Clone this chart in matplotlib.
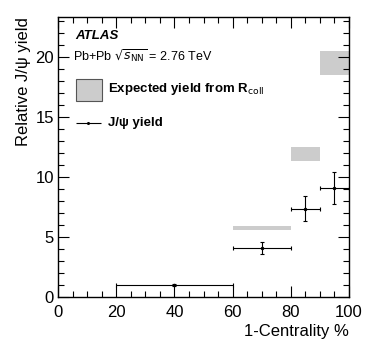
import matplotlib
matplotlib.use("Agg")
import matplotlib.pyplot as plt
import numpy as np
from matplotlib.patches import Rectangle
from matplotlib.ticker import MultipleLocator

# J/psi yield points
x_lo = np.array([20, 60, 80, 90])
x_hi = np.array([60, 80, 90, 100])
yld = np.array([1.0, 4.1, 7.35, 9.05])
yld_err = np.array([0.1, 0.5, 1.07, 1.33])

# expected yield from R_coll (bands)
exp_lo = np.array([60, 80, 90])
exp_hi = np.array([80, 90, 100])
exp_val = np.array([5.74, 11.9, 19.5])
exp_err = np.array([0.18, 0.55, 1.0])

plt.rcParams['font.family'] = ['Liberation Sans', 'DejaVu Sans']

fig = plt.figure(figsize=(3.68, 3.53), dpi=100)
ax = fig.add_axes([0.158, 0.159, 0.79, 0.793])

for lo, hi, v, e in zip(exp_lo, exp_hi, exp_val, exp_err):
    ax.add_patch(Rectangle((lo, v - e), hi - lo, 2 * e, facecolor='#cccccc', edgecolor='none'))

xc = (x_lo + x_hi) / 2
ax.errorbar(xc, yld, xerr=(x_hi - x_lo) / 2, yerr=yld_err, fmt='o', ms=1.5, color='black',
            ecolor='black', elinewidth=0.8, capsize=1.5, capthick=0.8)

ax.set_xlim(0, 100)
ax.set_ylim(0, 23.3)
ax.xaxis.set_major_locator(MultipleLocator(20))
ax.xaxis.set_minor_locator(MultipleLocator(5))
ax.yaxis.set_major_locator(MultipleLocator(5))
ax.yaxis.set_minor_locator(MultipleLocator(1))
ax.tick_params(which='both', direction='in', top=True, right=True, labelsize=12, width=0.8)
ax.tick_params(which='major', length=8)
ax.tick_params(which='minor', length=4)
ax.tick_params(axis='x', which='major', pad=6)
ax.tick_params(axis='y', which='major', pad=3)
for s in ax.spines.values():
    s.set_linewidth(1.0)

ax.set_xlabel("1-Centrality %", fontsize=12, loc='right', labelpad=3)
ax.set_ylabel("Relative J/\u03c8 yield", fontsize=12, loc='top', labelpad=3)

ax.text(5.9, 21.7, "ATLAS", fontsize=9.5, fontweight='bold', fontstyle='italic', va='center')
ax.text(5.2, 20.0, r"Pb+Pb $\sqrt{s_{\rm NN}}$ = 2.76 TeV", fontsize=9, va='center')

ax.add_patch(Rectangle((6.0, 16.3), 9.0, 1.8, facecolor='#cccccc', edgecolor='#555555', linewidth=0.8))
ax.text(17.2, 17.3, r"Expected yield from R$_{\rm coll}$", fontsize=9.5, fontweight='bold', va='center')
ax.errorbar([10.4], [14.5], xerr=[4.4], fmt='o', ms=1.2, color='black', elinewidth=0.8)
ax.text(17.2, 14.5, "J/\u03c8 yield", fontsize=9.5, fontweight='bold', va='center')

plt.savefig('out.png', dpi=100)
